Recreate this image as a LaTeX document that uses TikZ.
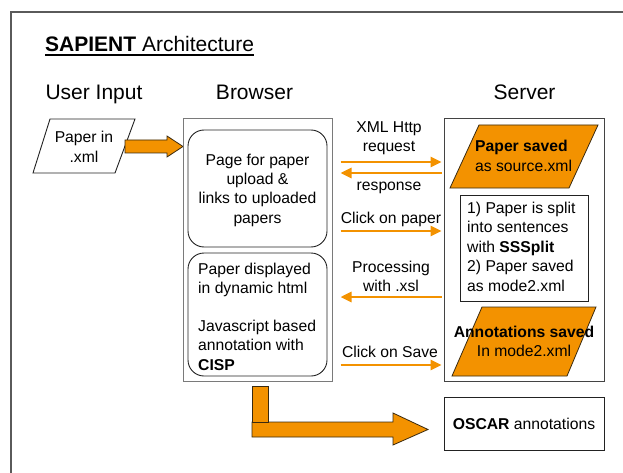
\documentclass[tikz,border=0pt]{standalone}
\usepackage{fontspec}
\setmainfont{Liberation Sans}
\usetikzlibrary{fit,calc,arrows.meta}
\definecolor{orng}{HTML}{F39200}
\definecolor{orline}{HTML}{3A2A10}
\definecolor{frame}{HTML}{5A5A5A}
\definecolor{bgray}{HTML}{7A7A7A}
\definecolor{dk}{HTML}{222222}
\newcommand{\cblock}[2]{\parbox[t]{#1}{\centering #2}}
\newcommand{\lblock}[2]{\parbox[t]{#1}{\raggedright #2}}
\begin{document}
\begin{tikzpicture}[x=1pt,y=-1pt,
  txt/.style={inner sep=0, font=\fontsize{15.7}{19.5}\selectfont},
  head/.style={inner sep=0, font=\fontsize{21}{25}\selectfont, anchor=base},
  rbox/.style={draw=dk, line width=0.9pt, inner sep=0, rounded corners=16pt},
  sbox/.style={draw=dk, line width=1pt, inner sep=0},
  orshape/.style={fill=orng, draw=orline, line width=0.8pt},
  orarrow/.style={draw=orng, line width=2.6pt, -{Triangle[length=11pt,width=10pt]}},
]
\useasboundingbox (0,0) rectangle (623,473);
% outer frame
\draw[frame, line width=2pt] (11,480) -- (11,12) -- (630,12);
% title
\node[head, anchor=base west] (title) at (45,52) {\textbf{SAPIENT} Architecture};
\draw[line width=1.4pt] ($(title.base west)+(0,3)$) -- ($(title.base east)+(0,3)$);
\node[head] (hin) at (94,100) {User Input};
\node[head] (hbr) at (254.5,100) {Browser};
\node[head] (hsv) at (524.5,100) {Server};
% input parallelogram
\draw[draw=dk, line width=0.9pt, fill=white] (50,119) -- (135,119) -- (115,173) -- (33,173) -- cycle;
\node[txt, anchor=base] (input) at (84,143) {\cblock{80pt}{Paper in\\.xml}};
% block arrow input -> browser
\draw[orshape] (125,140) -- (167,140) -- (167,136) -- (183,146.5) -- (167,157) -- (167,153) -- (125,153) -- cycle;
% browser
\node[fit={(183,119) (332,381)}, draw=bgray, line width=1pt, inner sep=0] (browser) {};
\node[rbox, fit={(188,130) (327,247)}] (upload) {};
\node[txt, anchor=base] (uploadtxt) at (257.5,166) {\fontsize{15.7}{19}\selectfont\cblock{140pt}{Page for paper\\upload \&\\links to uploaded\\papers}};
\node[rbox, fit={(188,253) (327,376)}] (display) {};
\node[txt, anchor=base west] (displaytxt) at (198,274) {\fontsize{15.7}{19.2}\selectfont\lblock{135pt}{Paper displayed\\in dynamic html\\[19.2pt]Javascript based\\annotation with\\\textbf{CISP}}};
% server
\node[fit={(444,119) (604,381)}, sbox, draw=dk!85] (server) {};
\draw[orshape] (479,125) -- (598,125) -- (569,188) -- (450,188) -- cycle;
\node[txt, anchor=base west] (saved) at (475,152) {\lblock{120pt}{\textbf{Paper saved}\\as source.xml}};
\node[sbox, fit={(460,195) (588,301)}] (split) {};
\node[txt, anchor=base west] (splittxt) at (467,213) {\lblock{125pt}{1) Paper is split\\into sentences\\with \textbf{SSSplit}\\2) Paper saved\\as mode2.xml}};
\draw[orshape] (482,307) -- (596,307) -- (567,376) -- (452,376) -- cycle;
\node[txt, anchor=base] (annot) at (524,337) {\cblock{160pt}{\textbf{Annotations saved}\\In mode2.xml}};
% oscar
\node[sbox, fit={(444,397) (604,450)}] (oscar) {};
\node[txt, anchor=base] (oscartxt) at (524,429) {\textbf{OSCAR} annotations};
% L block arrow browser -> oscar
\draw[orshape] (252,422) -- (393,422) -- (393,413) -- (428,429.5) -- (393,445) -- (393,437) -- (252,437) -- cycle;
\draw[orshape] (252,386) rectangle (268,422);
% messages
\node[txt, anchor=base] (l1) at (389,132.5) {\cblock{110pt}{XML Http\\request}};
\draw[orarrow, shorten <=8pt, shorten >=2pt] (browser.east |- 0,162) -- (server.west |- 0,162);
\draw[orarrow, shorten <=2pt, shorten >=8pt] (server.west |- 0,173) -- (browser.east |- 0,173);
\node[txt, anchor=base] (l2) at (389,190) {response};
\node[txt, anchor=base] (l3) at (391,223) {Click on paper};
\draw[orarrow, shorten <=8pt, shorten >=2pt] (browser.east |- 0,231) -- (server.west |- 0,231);
\node[txt, anchor=base] (l4) at (391,272) {\cblock{110pt}{Processing\\with .xsl}};
\draw[orarrow, shorten <=2pt, shorten >=8pt] (server.west |- 0,297) -- (browser.east |- 0,297);
\node[txt, anchor=base] (l5) at (390,357) {Click on Save};
\draw[orarrow, shorten <=8pt, shorten >=2pt] (browser.east |- 0,365) -- (server.west |- 0,365);
\end{tikzpicture}
\end{document}
